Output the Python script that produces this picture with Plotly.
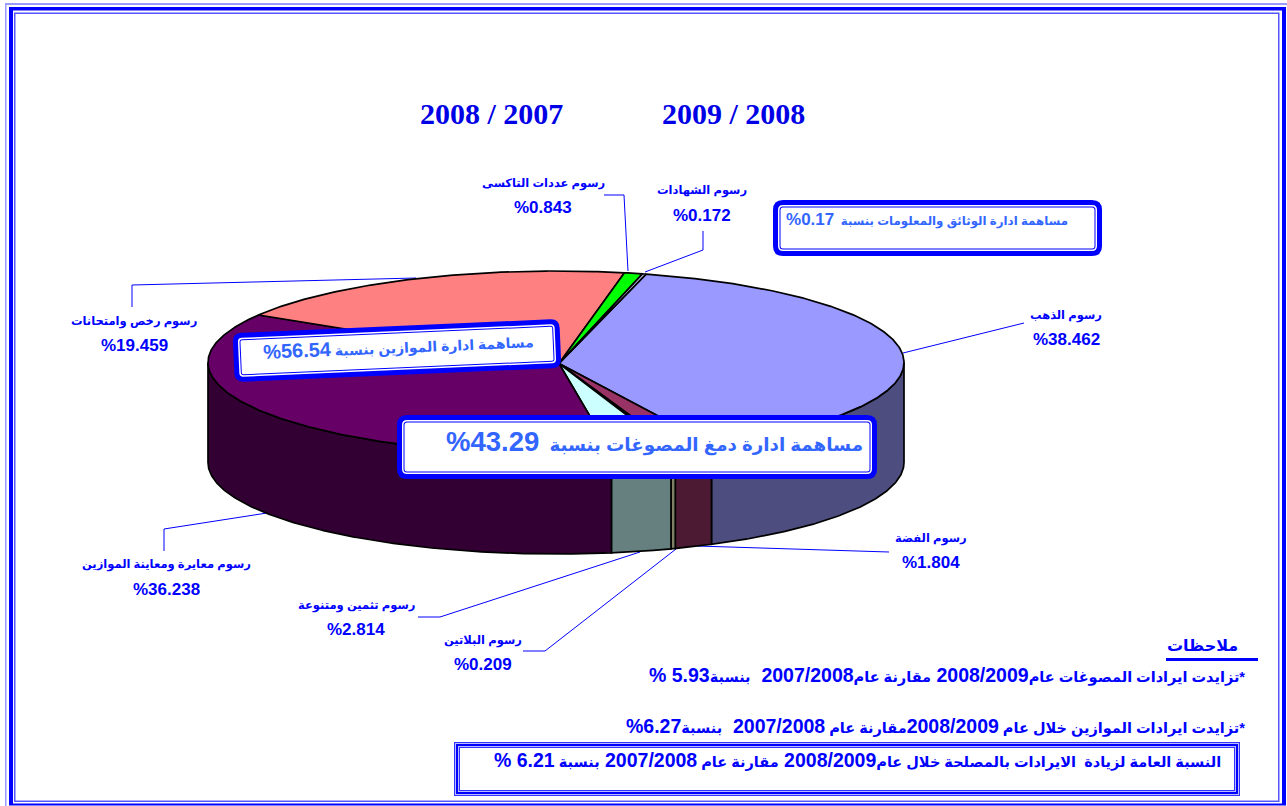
import math
import re
import plotly.graph_objects as go

# ---- data ----
slice_names = ["رسوم الذهب", "رسوم الفضة", "رسوم البلاتين", "رسوم تثمين ومتنوعة",
               "رسوم معايرة ومعاينة الموازين", "رسوم رخص وامتحانات",
               "رسوم عددات التاكسى", "رسوم الشهادات"]
slice_values = [38.462, 1.804, 0.209, 2.814, 36.238, 19.459, 0.843, 0.172]
top_colors = ["#9999FF", "#993366", "#FFFFCC", "#CCFFFF", "#660066", "#FF8080", "#00FF00", "#CCCCFF"]
side_colors = ["#4D4D80", "#4D1A33", "#808066", "#668080", "#330033", "#804040", "#008000", "#666680"]
period_titles = ["2008 / 2007", "2009 / 2008"]
notes_title = "ملاحظات"
note_1 = "*تزايدت ايرادات المصوغات عام2008/2009 مقارنة عام2007/2008  بنسبة5.93 %"
note_2 = "*تزايدت ايرادات الموازين خلال عام 2008/2009مقارنة عام 2007/2008  بنسبة6.27%"
note_3 = "النسبة العامة لزيادة  الايرادات بالمصلحة خلال عام2008/2009 مقارنة عام 2007/2008 بنسبة 6.21 %"
box_docs = "مساهمة ادارة الوثائق والمعلومات بنسبة  0.17%"
box_scales = "مساهمة ادارة الموازين بنسبة 56.54%"
box_stamp = "مساهمة ادارة دمغ المصوغات بنسبة  43.29%"

# ---- layout constants (pixels on a 1287x806 canvas) ----
CX, CY, RX, RY, DEPTH = 556, 362.5, 348, 91.5, 100
APEX = (559, 363.5)
START_DEG = 15.0
label_pos = [(1066, 316, 1066, 339), (931, 539, 931, 562), (483, 641, 483, 664),
             (356, 606, 356, 629), (166, 565, 166, 589), (134, 322, 134, 345),
             (543, 184, 543, 207), (702, 191, 702, 215)]
leaders = [[(903, 353), (1024, 323)], [(697, 546), (889, 552)],
           [(676, 549), (545, 651), (523, 651)], [(640, 552), (440, 617), (418, 617)],
           [(267, 513), (164, 529), (164, 551)], [(416, 278), (132, 285), (132, 307)],
           [(628, 271), (624, 195), (604, 195)], [(645, 272), (703, 250), (703, 231)]]
BLUE = "#0000FF"
BOX_TXT = "#3366FF"
RLE = "\u202b"
FONT = "Liberation Sans, DejaVu Sans, sans-serif"


def rim(deg):
    t = math.radians(deg)
    return CX + RX * math.sin(t), CY - RY * math.cos(t)


def arc(a, b):
    n = max(2, int(abs(b - a) * 2))
    return [rim(a + (b - a) * i / n) for i in range(n + 1)]


fig = go.Figure()


def poly(pts, fill, lw=1.7):
    fig.add_trace(go.Scatter(x=[p[0] for p in pts], y=[p[1] for p in pts], mode="lines",
                             fill="toself", fillcolor=fill, line=dict(color="#000000", width=lw),
                             hoverinfo="skip", showlegend=False))


# leader lines first
for pts in leaders:
    fig.add_trace(go.Scatter(x=[p[0] for p in pts], y=[p[1] for p in pts], mode="lines",
                             line=dict(color=BLUE, width=1), hoverinfo="skip", showlegend=False))

angles = [START_DEG]
for v in slice_values:
    angles.append(angles[-1] + v / sum(slice_values) * 360)

# side walls: only the front half of the rim (90..270 degrees) is visible
for i in range(len(slice_values)):
    a, b = max(angles[i], 90), min(angles[i + 1], 270)
    if b > a:
        top = arc(a, b)
        poly(top + [(x, y + DEPTH) for x, y in reversed(top)] + [top[0]], side_colors[i])
# top faces
for i in range(len(slice_values)):
    poly([APEX] + arc(angles[i], angles[i + 1]) + [APEX], top_colors[i])


def rrect(x0, y0, x1, y1, r, ang=0.0):
    """Rounded rectangle as an SVG path, optionally rotated about its centre."""
    mx, my = (x0 + x1) / 2, (y0 + y1) / 2
    c, s = math.cos(math.radians(ang)), math.sin(math.radians(ang))

    def P(x, y):
        dx, dy = x - mx, y - my
        return f"{mx + dx * c - dy * s:.2f},{my + dx * s + dy * c:.2f}"

    return (f"M{P(x0 + r, y0)} L{P(x1 - r, y0)} Q{P(x1, y0)} {P(x1, y0 + r)} "
            f"L{P(x1, y1 - r)} Q{P(x1, y1)} {P(x1 - r, y1)} L{P(x0 + r, y1)} "
            f"Q{P(x0, y1)} {P(x0, y1 - r)} L{P(x0, y0 + r)} Q{P(x0, y0)} {P(x0 + r, y0)} Z")


shapes = []


def layered(x0, y0, x1, y1, layers, r=0.0, ang=0.0):
    inset = 0.0
    for color, w in layers:
        shapes.append(dict(type="path", xref="x", yref="y",
                           path=rrect(x0 + inset, y0 + inset, x1 - inset, y1 - inset, max(r - inset, 0), ang),
                           fillcolor=color, line=dict(width=0), layer="above"))
        inset += w


# outer page frame, behind everything
for bx0, by0, bx1, by1, col in [(5, 3, 1290, 810, "#9999FF"), (6.5, 5, 1290, 810, "#FFFFFF"),
                                (9, 7, 1286, 805.5, BLUE), (13, 10.5, 1282, 803.5, "#FFFFFF"),
                                (14, 12.5, 1279.5, 802, "#5555FF"), (15.5, 14, 1278, 800.5, "#FFFFFF")]:
    shapes.append(dict(type="rect", xref="x", yref="y", x0=bx0, y0=by0, x1=bx1, y1=by1,
                       fillcolor=col, line=dict(width=0), layer="below"))
# callout boxes
fancy = [(BLUE, 5), ("#FFFFFF", 1.5), (BLUE, 1), ("#FFFFFF", 0)]
layered(773, 200, 1102, 256, fancy, r=10)
layered(233.5, 326, 560.5, 375, fancy, r=9, ang=-2.5)
layered(397, 415, 877, 479, fancy, r=10)
layered(454, 742, 1240, 796, [("#3333FF", 1), ("#BBBBFF", 1), (BLUE, 2), ("#BBBBFF", 1), ("#3333FF", 1), ("#FFFFFF", 0)])
# underline of the notes heading
shapes.append(dict(type="rect", xref="x", yref="y", x0=1166, x1=1258, y0=658, y1=661,
                   fillcolor=BLUE, line=dict(width=0), layer="above"))


def note(text, x, y, size, color=BLUE, anchor="center", family=FONT, angle=0, rtl=False, num=None):
    if num:
        text = re.sub(r"[\d./]+\s*%?", lambda m: f'<span style="font-size:{num}px"><b>{m.group(0)}</b></span>', text)
    fig.add_annotation(text="<b>" + (RLE + text if rtl else text) + "</b>", x=x, y=y, xref="x", yref="y",
                       showarrow=False, xanchor=anchor, yanchor="middle", textangle=angle,
                       font=dict(family=family, size=size, color=color))


# labels
for name, val, pos in zip(slice_names, slice_values, label_pos):
    note(name, pos[0], pos[1], 11.5, rtl=True)
    note(f"%{val:.3f}", pos[2], pos[3], 17)

note(period_titles[0], 491, 113, 30, color="#0000E6", family="Liberation Serif, serif")
note(period_titles[1], 733, 113, 30, color="#0000E6", family="Liberation Serif, serif")
note(box_docs, 927, 219, 11.8, color=BOX_TXT, rtl=True, num=17)
note(box_scales, 398, 346, 14, color=BOX_TXT, rtl=True, angle=-2.5, num=20)
note(box_stamp, 654, 441.5, 18.3, color=BOX_TXT, rtl=True, num=27.5)
note(notes_title, 1202, 645, 16, rtl=True)
note(note_1, 1247, 675, 14.5, anchor="right", rtl=True, num=19.5)
note(note_2, 1247, 726, 14.5, anchor="right", rtl=True, num=19.5)
note(note_3, 1223, 760, 14.5, anchor="right", rtl=True, num=19.5)

fig.update_layout(width=1287, height=806, margin=dict(l=0, r=0, t=0, b=0), autosize=False,
                  paper_bgcolor="#FFFFFF", plot_bgcolor="#FFFFFF", showlegend=False, shapes=shapes,
                  xaxis=dict(range=[0, 1287], visible=False, fixedrange=True),
                  yaxis=dict(range=[806, 0], visible=False, fixedrange=True))
fig.write_html("out.html", config=dict(displayModeBar=False),
               post_script="document.body.style.margin='0';document.documentElement.style.overflow='hidden';")
